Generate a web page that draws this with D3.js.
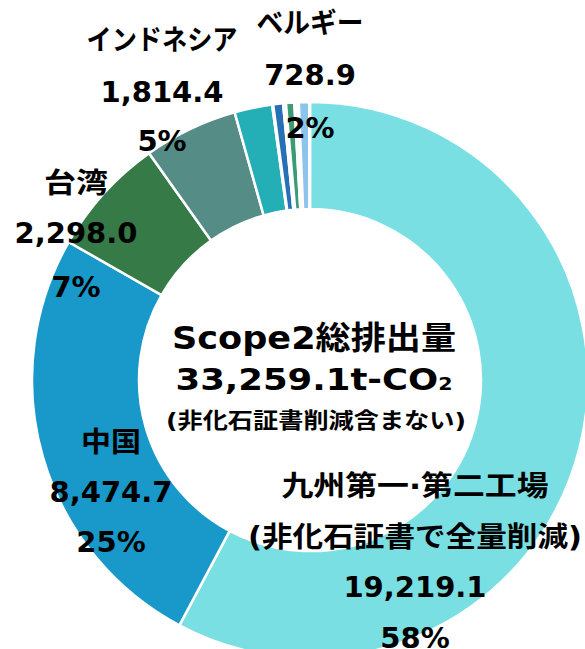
<!DOCTYPE html>
<html>
<head>
<meta charset="utf-8">
<script src="https://cdn.jsdelivr.net/npm/d3@7"></script>
<style>
  body { margin: 0; background: #fff; }
  text { font-family: "DejaVu Sans", "Noto Sans CJK JP", sans-serif; font-weight: bold; fill: #000; }
</style>
</head>
<body>
<div id="chart"></div>
<script>
const categories = ["九州第一・第二工場", "中国", "台湾", "インドネシア", "ベルギー",
    "その他1", "その他2", "その他3", "その他4", "その他5", "その他6", "その他7"];
const values = [19219.1, 8474.7, 2298.0, 1814.4, 728.9, 20, 190, 55, 160, 85, 200, 14];
const nameLines = [["九州第一·第二工場", "(非化石証書で全量削減)"], ["中国"], ["台湾"], ["インドネシア"], ["ベルギー"]];
const centerTitle = "Scope2総排出量";
const centerNote = "(非化石証書削減含まない)";

const palette = ["#7adfe3", "#1899c9", "#357a47", "#558d86", "#24aeb6",
    "#ffffff", "#2770b5", "#ffffff", "#3a9b75", "#ffffff", "#8dc4ec", "#ffffff"];

// where each label block sits: centre x, baselines of name lines, value, percent
const labelLayout = [
    {x: 415, names: [496, 547], nameW: [267, 334], value: 597, pct: 648},
    {x: 111, names: [452], nameW: [60], value: 502, pct: 552},
    {x: 76, names: [193], nameW: [64], value: 243, pct: 297},
    {x: 162, names: [50], nameW: [151], value: 102, pct: 151},
    {x: 310, names: [33], nameW: [107], value: 85, pct: 138}
];

const width = 585, height = 649;
const cx = 310, cy = 380, outerR = 278, innerR = 171;

const svg = d3.select("#chart").append("svg")
    .attr("width", width)
    .attr("height", height);

const data = categories.map((c, i) => ({name: c, value: values[i], i: i}));
const total = d3.sum(values);

const pie = d3.pie()
    .sort(null)
    .value(d => d.value);

const arc = d3.arc()
    .innerRadius(innerR)
    .outerRadius(outerR);

const color = d3.scaleOrdinal()
    .domain(categories)
    .range(palette);

const g = svg.append("g")
    .attr("transform", `translate(${cx},${cy})`);

g.selectAll(".slice")
    .data(pie(data))
    .join("path")
    .attr("class", "slice")
    .attr("d", arc)
    .attr("fill", d => color(d.data.name))
    .attr("stroke", "#fff")
    .attr("stroke-width", 2.5);

// labels
const fmtVal = d3.format(",.1f");
const fmtPct = d3.format(".0%");

labelLayout.forEach((L, i) => {
    const lab = svg.append("g").attr("class", "label");
    nameLines[i].forEach((t, k) => {
        lab.append("text")
            .attr("x", L.x)
            .attr("y", L.names[k])
            .attr("text-anchor", "middle")
            .attr("font-size", 28)
            .attr("textLength", L.nameW[k])
            .attr("lengthAdjust", "spacingAndGlyphs")
            .text(t);
    });
    lab.append("text")
        .attr("x", L.x)
        .attr("y", L.value)
        .attr("text-anchor", "middle")
        .attr("font-size", 29)
        .text(fmtVal(values[i]));
    lab.append("text")
        .attr("x", L.x)
        .attr("y", L.pct)
        .attr("text-anchor", "middle")
        .attr("font-size", 29)
        .text(fmtPct(values[i] / total));
});

// centre text
const center = svg.append("g").attr("class", "center");
center.append("text")
    .attr("x", 314).attr("y", 349)
    .attr("text-anchor", "middle")
    .attr("font-size", 32)
    .attr("textLength", 284)
    .attr("lengthAdjust", "spacingAndGlyphs")
    .text(centerTitle);

const tot = center.append("text")
    .attr("x", 314).attr("y", 390)
    .attr("text-anchor", "middle")
    .attr("font-size", 31)
    .attr("textLength", 277)
    .attr("lengthAdjust", "spacingAndGlyphs");
tot.append("tspan").text(fmtVal(total) + "t-CO");
tot.append("tspan").attr("font-size", 18).text("2");

center.append("text")
    .attr("x", 316).attr("y", 428)
    .attr("text-anchor", "middle")
    .attr("font-size", 22)
    .attr("textLength", 300)
    .attr("lengthAdjust", "spacingAndGlyphs")
    .text(centerNote);
</script>
</body>
</html>
